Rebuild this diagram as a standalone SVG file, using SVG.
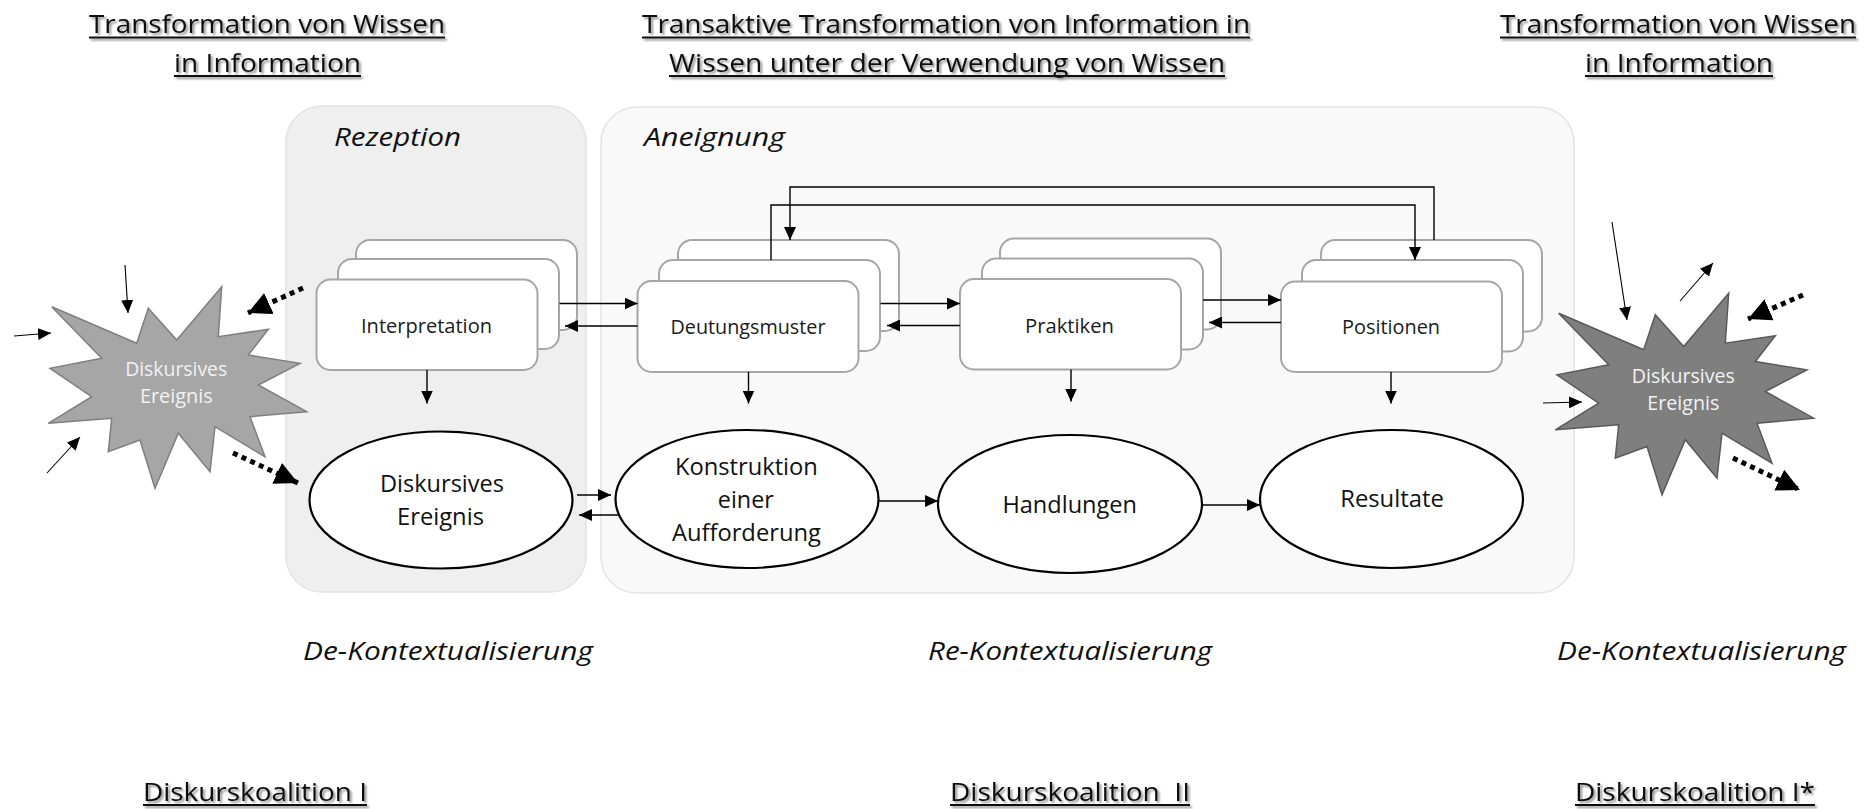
<svg xmlns="http://www.w3.org/2000/svg" xmlns:xlink="http://www.w3.org/1999/xlink" width="1870" height="809" viewBox="0 0 1870 809">
  <style>
    text { font-family: "Open Sans", "Liberation Sans", sans-serif; fill: #111; }
    .title { font-size: 26px; text-anchor: middle; }
    .phase { font-size: 26px; font-style: italic; text-anchor: middle; }
    .box-label { font-size: 20.5px; text-anchor: middle; fill: #1a1a1a; }
    .ell-label { font-size: 24px; text-anchor: middle; }
    .burst-label { font-size: 20px; text-anchor: middle; fill: #f2f2f2; }
    .ul { stroke: #111; stroke-width: 2; }
    .panel-rez { fill: #efefef; stroke: #e3e3e3; stroke-width: 1.5; }
    .panel-an { fill: #f9f9f9; stroke: #e3e3e3; stroke-width: 1.5; }
    .card { fill: #fff; stroke: #a6a6a6; stroke-width: 2; }
    .oval { fill: #fff; stroke: #000; stroke-width: 2.2; }
    .conn { fill: none; stroke: #000; stroke-width: 1.4; marker-end: url(#head); }
    .thin { fill: none; stroke: #000; stroke-width: 1.1; marker-end: url(#head); }
    .dots { fill: none; stroke: #000; stroke-width: 5; stroke-dasharray: 5 4.5; marker-end: url(#bighead); }
  </style>
  <defs>
    <marker id="head" markerUnits="userSpaceOnUse" markerWidth="13" markerHeight="12" refX="13" refY="6" orient="auto">
      <path d="M0,0 L13,6 L0,12 z" fill="#000"/>
    </marker>
    <marker id="bighead" markerUnits="userSpaceOnUse" markerWidth="23" markerHeight="23" refX="23" refY="11.5" orient="auto">
      <path d="M0,0 L23,11.5 L0,23 z" fill="#000"/>
    </marker>
    <filter id="shadow" x="-5%" y="-30%" width="110%" height="160%">
      <feDropShadow dx="2" dy="2" stdDeviation="1" flood-color="#000" flood-opacity="0.45"/>
    </filter>
    <path id="burst" d="M51.7,306.7 L136.7,343.3 L148.3,308.3 L176.7,340 L221.7,286.7 L218.3,336.7 L268.3,329.3 L248.3,355 L300,363.3 L258.3,385 L306.7,411.7 L250,416.7 L265,456.7 L215,426.7 L210,471.7 L178.3,433.3 L155,488.3 L140,440 L108.3,451.7 L111.7,418.3 L48.3,423.3 L91.7,396.7 L50,368.3 L101.7,358.3 Z"/>
  </defs>

  <rect width="1870" height="809" fill="#fff"/>

  <!-- headings -->
  <g id="heading-left" filter="url(#shadow)">
    <text class="title" x="267" y="33" textLength="356" lengthAdjust="spacingAndGlyphs">Transformation von Wissen</text>
    <line class="ul" x1="89" y1="37.5" x2="445" y2="37.5"/>
    <text class="title" x="267.5" y="71.5" textLength="187" lengthAdjust="spacingAndGlyphs">in Information</text>
    <line class="ul" x1="174" y1="76" x2="361" y2="76"/>
  </g>
  <g id="heading-middle" filter="url(#shadow)">
    <text class="title" x="946" y="33" textLength="608" lengthAdjust="spacingAndGlyphs">Transaktive Transformation von Information in</text>
    <line class="ul" x1="642" y1="37.5" x2="1250" y2="37.5"/>
    <text class="title" x="947" y="71.5" textLength="556" lengthAdjust="spacingAndGlyphs">Wissen unter der Verwendung von Wissen</text>
    <line class="ul" x1="669" y1="76" x2="1225" y2="76"/>
  </g>
  <g id="heading-right" filter="url(#shadow)">
    <text class="title" x="1678" y="33" textLength="356" lengthAdjust="spacingAndGlyphs">Transformation von Wissen</text>
    <line class="ul" x1="1500" y1="37.5" x2="1856" y2="37.5"/>
    <text class="title" x="1679" y="71.5" textLength="188" lengthAdjust="spacingAndGlyphs">in Information</text>
    <line class="ul" x1="1585" y1="76" x2="1773" y2="76"/>
  </g>

  <!-- phase panels -->
  <g id="panel-rezeption">
    <rect class="panel-rez" x="286" y="106" width="300" height="486" rx="36"/>
    <text class="phase" x="397.5" y="146" textLength="127" lengthAdjust="spacingAndGlyphs">Rezeption</text>
  </g>
  <g id="panel-aneignung">
    <rect class="panel-an" x="601" y="107" width="973" height="486" rx="36"/>
    <text class="phase" x="714.5" y="146" textLength="141" lengthAdjust="spacingAndGlyphs">Aneignung</text>
  </g>

  <!-- discursive events (bursts) -->
  <g id="event-left">
    <use xlink:href="#burst" href="#burst" fill="#a6a6a6" stroke="#7f7f7f" stroke-width="1.5"/>
    <text class="burst-label" x="176.2" y="376" textLength="102" lengthAdjust="spacingAndGlyphs">Diskursives</text>
    <text class="burst-label" x="176.3" y="403.3" textLength="72.7" lengthAdjust="spacingAndGlyphs">Ereignis</text>
  </g>
  <g id="event-right">
    <use xlink:href="#burst" href="#burst" transform="translate(1507,6.5)" fill="#7f7f7f" stroke="#595959" stroke-width="1.5"/>
    <text class="burst-label" x="1683.3" y="383" textLength="103" lengthAdjust="spacingAndGlyphs">Diskursives</text>
    <text class="burst-label" x="1683.3" y="410" textLength="72" lengthAdjust="spacingAndGlyphs">Ereignis</text>
  </g>

  <!-- stacked cards -->
  <g id="interpretation">
    <rect class="card" x="356" y="240" width="221" height="90" rx="14"/>
    <rect class="card" x="338" y="259" width="221" height="90" rx="14"/>
    <rect class="card" x="316.5" y="279.5" width="221" height="90.5" rx="14"/>
    <text class="box-label" x="426.5" y="333" textLength="131" lengthAdjust="spacingAndGlyphs">Interpretation</text>
  </g>
  <g id="deutungsmuster">
    <rect class="card" x="678" y="240" width="221" height="91" rx="14"/>
    <rect class="card" x="659" y="260" width="221" height="91" rx="14"/>
    <rect class="card" x="637.5" y="281" width="221" height="91" rx="14"/>
    <text class="box-label" x="748" y="334" textLength="155" lengthAdjust="spacingAndGlyphs">Deutungsmuster</text>
  </g>
  <g id="praktiken">
    <rect class="card" x="1000" y="238.5" width="221" height="91" rx="14"/>
    <rect class="card" x="982" y="258.5" width="221" height="91" rx="14"/>
    <rect class="card" x="960" y="279" width="221" height="90.5" rx="14"/>
    <text class="box-label" x="1069.5" y="332.5" textLength="89" lengthAdjust="spacingAndGlyphs">Praktiken</text>
  </g>
  <g id="positionen">
    <rect class="card" x="1321" y="240" width="221" height="91.5" rx="14"/>
    <rect class="card" x="1302" y="260" width="221" height="91.5" rx="14"/>
    <rect class="card" x="1281" y="281.5" width="221" height="90.5" rx="14"/>
    <text class="box-label" x="1391" y="334" textLength="98" lengthAdjust="spacingAndGlyphs">Positionen</text>
  </g>

  <!-- ellipses -->
  <g id="ereignis">
    <ellipse class="oval" cx="441" cy="500" rx="131.5" ry="68.5"/>
    <text class="ell-label" x="442" y="491.5" textLength="124" lengthAdjust="spacingAndGlyphs">Diskursives</text>
    <text class="ell-label" x="440.5" y="525" textLength="87" lengthAdjust="spacingAndGlyphs">Ereignis</text>
  </g>
  <g id="konstruktion">
    <ellipse class="oval" cx="747" cy="499" rx="131.5" ry="69"/>
    <text class="ell-label" x="746.4" y="475" textLength="143" lengthAdjust="spacingAndGlyphs">Konstruktion</text>
    <text class="ell-label" x="745.8" y="508" textLength="56" lengthAdjust="spacingAndGlyphs">einer</text>
    <text class="ell-label" x="746.4" y="540.5" textLength="149" lengthAdjust="spacingAndGlyphs">Aufforderung</text>
  </g>
  <g id="handlungen">
    <ellipse class="oval" cx="1070" cy="504" rx="132" ry="69"/>
    <text class="ell-label" x="1069.7" y="513" textLength="134.6" lengthAdjust="spacingAndGlyphs">Handlungen</text>
  </g>
  <g id="resultate">
    <ellipse class="oval" cx="1391.5" cy="499" rx="131.5" ry="69"/>
    <text class="ell-label" x="1392" y="507" textLength="103.6" lengthAdjust="spacingAndGlyphs">Resultate</text>
  </g>

  <!-- connectors -->
  <g id="connectors">
    <path class="conn" d="M1434,240 V187 H790 V240"/>
    <path class="conn" d="M771,260 V205 H1415 V260"/>
    <path class="conn" d="M559.5,303.5 H637.5"/>
    <path class="conn" d="M637.5,326 H565"/>
    <path class="conn" d="M880.5,303.5 H960"/>
    <path class="conn" d="M960,325.5 H887"/>
    <path class="conn" d="M1203,300 H1281"/>
    <path class="conn" d="M1281,322.5 H1209"/>
    <path class="conn" d="M427,370 V403.5"/>
    <path class="conn" d="M748.5,372 V403.5"/>
    <path class="conn" d="M1071,369.5 V401.5"/>
    <path class="conn" d="M1391,372 V403.5"/>
    <path class="conn" d="M577,495 H611"/>
    <path class="conn" d="M620,515 H579"/>
    <path class="conn" d="M878.5,501 H938"/>
    <path class="conn" d="M1202,505 H1260"/>
    <path class="thin" d="M125,265 L128,313"/>
    <path class="thin" d="M14,336 L51,333"/>
    <path class="thin" d="M47,473 L80,437"/>
    <path class="thin" d="M1612,222 L1627,320"/>
    <path class="thin" d="M1680,301 L1713,263"/>
    <path class="thin" d="M1543,403 L1582,402"/>
    <path class="dots" d="M303,288 L248,313"/>
    <path class="dots" d="M233,453 L298,483"/>
    <path class="dots" d="M1803,295 L1748,319"/>
    <path class="dots" d="M1733,458 L1800,490"/>
  </g>

  <!-- phase captions -->
  <g id="captions">
    <text class="phase" x="448" y="660" textLength="290" lengthAdjust="spacingAndGlyphs">De-Kontextualisierung</text>
    <text class="phase" x="1070" y="660" textLength="284" lengthAdjust="spacingAndGlyphs">Re-Kontextualisierung</text>
    <text class="phase" x="1701.5" y="660" textLength="289" lengthAdjust="spacingAndGlyphs">De-Kontextualisierung</text>
  </g>

  <!-- coalitions -->
  <g id="coalitions" filter="url(#shadow)">
    <text class="title" x="255" y="801" textLength="224" lengthAdjust="spacingAndGlyphs">Diskurskoalition I</text>
    <line class="ul" x1="143" y1="805" x2="367" y2="805"/>
    <text class="title" x="1070" y="801" xml:space="preserve" textLength="240" lengthAdjust="spacingAndGlyphs">Diskurskoalition  II</text>
    <line class="ul" x1="950" y1="805" x2="1190" y2="805"/>
    <text class="title" x="1695" y="801" textLength="240" lengthAdjust="spacingAndGlyphs">Diskurskoalition I*</text>
    <line class="ul" x1="1575" y1="805" x2="1815" y2="805"/>
  </g>
</svg>
